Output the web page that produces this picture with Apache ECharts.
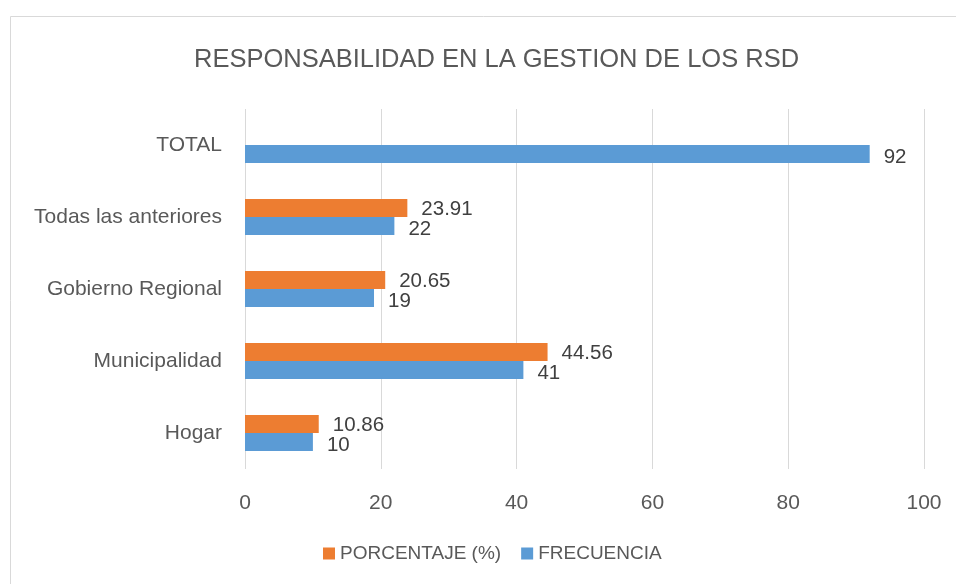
<!DOCTYPE html>
<html><head><meta charset="utf-8">
<script src="https://cdn.jsdelivr.net/npm/echarts@6/dist/echarts.min.js"></script>
<style>html,body{margin:0;padding:0;background:#fff}#c{width:956px;height:584px}</style>
</head><body><div id="c"></div>
<script>
const categories = ['Hogar', 'Municipalidad', 'Gobierno Regional', 'Todas las anteriores', 'TOTAL'];
const porcentaje = [10.86, 44.56, 20.65, 23.91, null];
const frecuencia = [10, 41, 19, 22, 92];
const xTicks = [0, 20, 40, 60, 80, 100];
const seriesNames = ['PORCENTAJE (%)', 'FRECUENCIA'];
const titleText = 'RESPONSABILIDAD EN LA GESTION DE LOS RSD';

const FONT = 'Liberation Sans, sans-serif';
const chart = echarts.init(document.getElementById('c'));
const lbl = {show: true, position: 'right', distance: 14, color: '#404040', fontSize: 20.5, fontFamily: FONT};
chart.setOption({
  animation: false,
  title: {text: titleText, left: 189, top: 42,
    textStyle: {color: '#595959', fontSize: 25.5, fontWeight: 'normal', fontFamily: FONT}},
  graphic: [{type: 'rect', shape: {x: 10.5, y: 16.5, width: 960, height: 600},
    style: {fill: 'none', stroke: '#d9d9d9', lineWidth: 1}, silent: true}],
  legend: {bottom: 16, left: 318, itemWidth: 12, itemHeight: 12, itemGap: 20,
    icon: 'rect', data: seriesNames,
    textStyle: {color: '#595959', fontSize: 19, fontFamily: FONT}},
  grid: {left: 245, right: 32, top: 109, bottom: 115},
  xAxis: {type: 'value', min: 0, max: xTicks[xTicks.length - 1], interval: 20,
    axisLine: {show: false}, axisTick: {show: false},
    axisLabel: {color: '#595959', fontSize: 21, fontFamily: FONT, margin: 24},
    splitLine: {lineStyle: {color: '#d9d9d9', width: 1}}},
  yAxis: {type: 'category', data: categories,
    axisLine: {show: false}, axisTick: {show: false},
    axisLabel: {color: '#595959', fontSize: 21, fontFamily: FONT, margin: 23}},
  series: [
    {name: seriesNames[0], type: 'bar', data: porcentaje, barGap: '0%', barCategoryGap: '50%',
      itemStyle: {color: '#ed7d31'}, label: Object.assign({}, lbl, {offset: [0, 1]})},
    {name: seriesNames[1], type: 'bar', data: frecuencia, barGap: '0%', barCategoryGap: '50%',
      itemStyle: {color: '#5b9bd5'}, label: Object.assign({}, lbl, {offset: [0, 3]})}
  ]
});
</script></body></html>
